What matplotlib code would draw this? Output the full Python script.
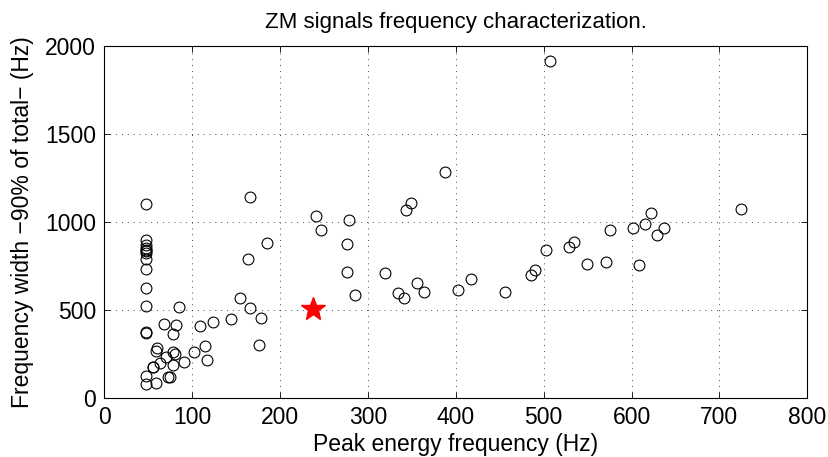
import matplotlib.pyplot as plt
import numpy as np

plt.rcParams["font.family"] = ["Liberation Sans", "DejaVu Sans"]

# peak energy frequency (Hz) and 90% width (Hz) per signal
peak_freq = [
    48, 48, 48, 48, 48, 48, 48, 48, 48, 48, 48, 48, 48, 48, 48,
    68, 82, 78, 60, 59, 78, 80, 70, 91, 63, 55, 55, 78, 59, 73, 75, 85,
    109, 124, 144, 154, 166, 178, 163, 185, 166, 176, 115, 102, 117,
    241, 247, 278, 276, 276, 285, 320, 334, 341, 349, 343, 356, 364, 388,
    403, 417, 456, 486, 490, 503, 507,
    529, 535, 549, 571, 576, 602, 608, 615, 622, 629, 637, 725,
]
width_90 = [
    1099, 896, 867, 850, 835, 820, 788, 731, 621, 523, 375, 366, 125, 78, 840,
    419, 413, 362, 281, 265, 258, 247, 233, 201, 195, 176, 173, 186, 82, 116, 116, 517,
    405, 430, 449, 564, 511, 455, 786, 877, 1139, 299, 295, 260, 212,
    1034, 953, 1010, 872, 712, 582, 710, 593, 568, 1105, 1066, 650, 602, 1282,
    612, 673, 602, 697, 725, 839, 1915,
    855, 883, 760, 769, 953, 962, 752, 985, 1048, 923, 962, 1070,
]

# highlighted signal
star_freq = [237]
star_width = [502]

fig = plt.figure(figsize=(8.29, 4.57), dpi=100)
ax = fig.add_axes([0.1258, 0.1298, 0.848, 0.770])

ax.plot(peak_freq, width_90, "o", markersize=7.8, markerfacecolor="none",
        markeredgecolor="black", markeredgewidth=0.8)
ax.plot(star_freq, star_width, "*", markersize=18, color="red",
        markeredgecolor="red")

ax.set_xlim(0, 800)
ax.set_ylim(0, 2000)
ax.set_xticks(np.arange(0, 801, 100))
ax.set_yticks(np.arange(0, 2001, 500))
ax.tick_params(direction="in", top=True, right=True, labelsize=16.5,
               length=4, width=0.6, pad=6)
ax.grid(True, linestyle=(0, (1, 5)), color="black", linewidth=0.7, alpha=0.7)
for s in ax.spines.values():
    s.set_linewidth(0.8)

ax.set_title("ZM signals frequency characterization.", fontsize=16, pad=13)
ax.set_xlabel("Peak energy frequency (Hz)", fontsize=16.5, labelpad=3)
ax.set_ylabel("Frequency width \u221290% of total\u2212 (Hz)", fontsize=16.5,
              labelpad=8)

fig.savefig("out.png", dpi=100)
